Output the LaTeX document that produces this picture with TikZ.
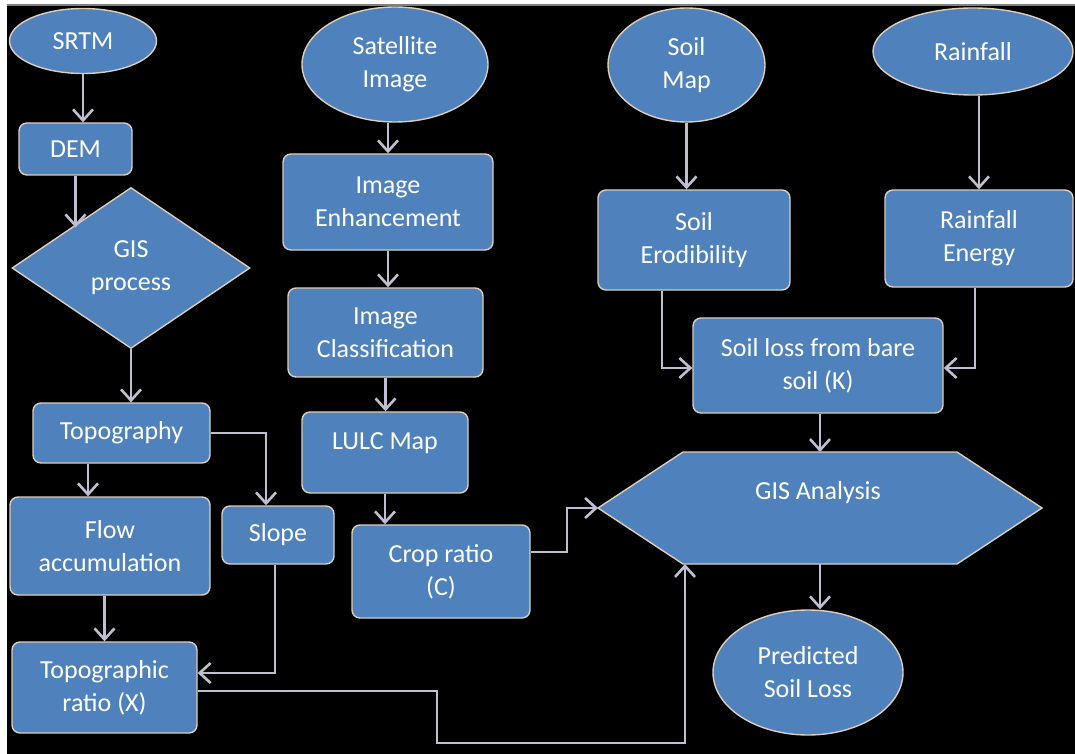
\documentclass[tikz,border=0pt]{standalone}
\usepackage{fontspec}
\setmainfont{Carlito}
\usetikzlibrary{shapes.geometric,arrows.meta,calc}
\definecolor{boxblue}{RGB}{79,129,189}
\definecolor{boxedge}{RGB}{222,205,185}
\definecolor{arrowc}{RGB}{192,190,208}
\begin{document}
\begin{tikzpicture}[x=0.5pt,y=-0.5pt,
  base/.style={fill=boxblue, draw=boxedge, line width=0.7pt, text=white,
    font=\fontsize{13}{16.5}\selectfont, align=center, inner sep=0pt},
  box/.style={base, rectangle, rounded corners=4pt},
  oval/.style={base, ellipse},
  dia/.style={base, diamond},
  txt/.style={text=white, font=\fontsize{13}{16.5}\selectfont, align=center, inner sep=0pt},
  arr/.style={draw=arrowc, line width=1.4pt,
    -{Straight Barb[length=5.5pt,width=10pt,line width=1.3pt]}}]
\useasboundingbox (0,0) rectangle (1075,754);
\fill[white] (0,0) rectangle (1075,754);
\fill[black] (7,5) rectangle (1075,754);
\draw[gray, line width=1pt] (7,5) -- (1075,5);

% left column
\node[oval, minimum width=73.5pt, minimum height=32.5pt] (srtm) at (83,41) {SRTM};
\node[box, minimum width=56.5pt, minimum height=26pt] (dem) at (75.5,149) {DEM};
\node[dia, minimum width=119pt, minimum height=80.5pt] (gisp) at (131,268) {GIS\\process};
\node[box, minimum width=88.5pt, minimum height=30pt] (topo) at (121.5,433) {Topography};
\node[box, minimum width=100pt, minimum height=49pt] (flow) at (110,546) {Flow\\accumulation};
\node[box, minimum width=56pt, minimum height=29pt] (slope) at (278,535) {Slope};
\node[box, minimum width=92.5pt, minimum height=45.5pt] (tratio) at (104.5,687.5) {Topographic\\ratio (X)};

% middle column
\node[oval, minimum width=93pt, minimum height=57.5pt] (sat) at (395,64.5) {Satellite\\Image};
\node[box, minimum width=105pt, minimum height=48pt] (enh) at (388,202) {Image\\Enhancement};
\node[box, minimum width=97.5pt, minimum height=44.5pt] (cls) at (385.5,332.5) {Image\\Classification};
\node[box, minimum width=83pt, minimum height=40.5pt] (lulc) at (385,452.5) {};
\node[txt] (lulct) at (385,443) {LULC Map};
\node[box, minimum width=89pt, minimum height=46.5pt] (crop) at (441,571.5) {Crop ratio\\(C)};

% right columns
\node[oval, minimum width=78.5pt, minimum height=57pt] (soilmap) at (686.5,65) {Soil\\Map};
\node[oval, minimum width=100pt, minimum height=43.5pt] (rain) at (973,51.5) {Rainfall};
\node[box, minimum width=96pt, minimum height=50pt] (erod) at (694,240) {Soil\\Erodibility};
\node[box, minimum width=94pt, minimum height=48.5pt] (renergy) at (979,238.5) {Rainfall\\Energy};
\node[box, minimum width=125pt, minimum height=47.5pt] (kloss) at (818,365.5) {Soil loss from bare\\soil (K)};

% GIS Analysis hexagon
\coordinate (hexL) at (598,508);
\coordinate (hexTL) at (683,452);
\coordinate (hexTR) at (957,452);
\coordinate (hexR) at (1042,508);
\coordinate (hexBR) at (957,564);
\coordinate (hexBL) at (683,564);
\filldraw[fill=boxblue, draw=boxedge, line width=0.7pt]
  (hexL) -- (hexTL) -- (hexTR) -- (hexR) -- (hexBR) -- (hexBL) -- cycle;
\node[txt] (gis) at (818,493) {GIS Analysis};
\coordinate (hexT) at (820,452);
\coordinate (hexB) at (820,564);
\coordinate (hexIn) at (685,564);

\node[oval, minimum width=95pt, minimum height=62.5pt] (pred) at (808,672.5) {Predicted\\Soil Loss};

% connectors
\draw[arr] (srtm.south) -- (srtm.south |- dem.north);
\draw[arr] (dem.south) -- (dem.south |- gisp.north west);
\draw[arr] (gisp.south) -- (gisp.south |- topo.north);
\coordinate (c4) at ($(topo.south)+(-33.5,0)$);
\draw[arr] (c4) -- (c4 |- flow.north);
\coordinate (c5) at ($(slope.north)+(-12,0)$);
\draw[arr] (topo.east) -| (c5);
\draw[arr] (tratio.north |- flow.south) -- (tratio.north);
\coordinate (c7) at ($(tratio.east)+(0,-14.5)$);
\coordinate (s7) at ($(slope.south)+(-3,0)$);
\draw[arr] (s7) |- (c7);
\coordinate (c8) at ($(tratio.east)+(0,3.5)$);
\coordinate (r1) at (437,743);
\draw[arr] (c8) -| (r1) -| (hexIn);

\draw[arr] (enh.north |- sat.south) -- (enh.north);
\draw[arr] (enh.south) -- (enh.south |- cls.north);
\draw[arr] (cls.south) -- (cls.south |- lulc.north);
\draw[arr] (lulc.south) -- (lulc.south |- crop.north);
\coordinate (c13) at ($(crop.east)+(0,-19.5)$);
\coordinate (b13) at (567,508);
\draw[arr] (c13) -| (b13) -- (hexL);

\draw[arr] (soilmap.south) -- (soilmap.south |- erod.north);
\draw[arr] (renergy.north |- rain.south) -- (renergy.north);
\coordinate (c16a) at ($(erod.south)+(-32,0)$);
\coordinate (c16b) at ($(kloss.west)+(0,2.5)$);
\draw[arr] (c16a) |- (c16b);
\coordinate (c17a) at ($(renergy.south)+(-4,0)$);
\coordinate (c17b) at ($(kloss.east)+(0,2.5)$);
\draw[arr] (c17a) |- (c17b);
\draw[arr] (hexT |- kloss.south) -- (hexT);
\draw[arr] (hexB) -- (hexB |- pred.north);
\end{tikzpicture}
\end{document}
